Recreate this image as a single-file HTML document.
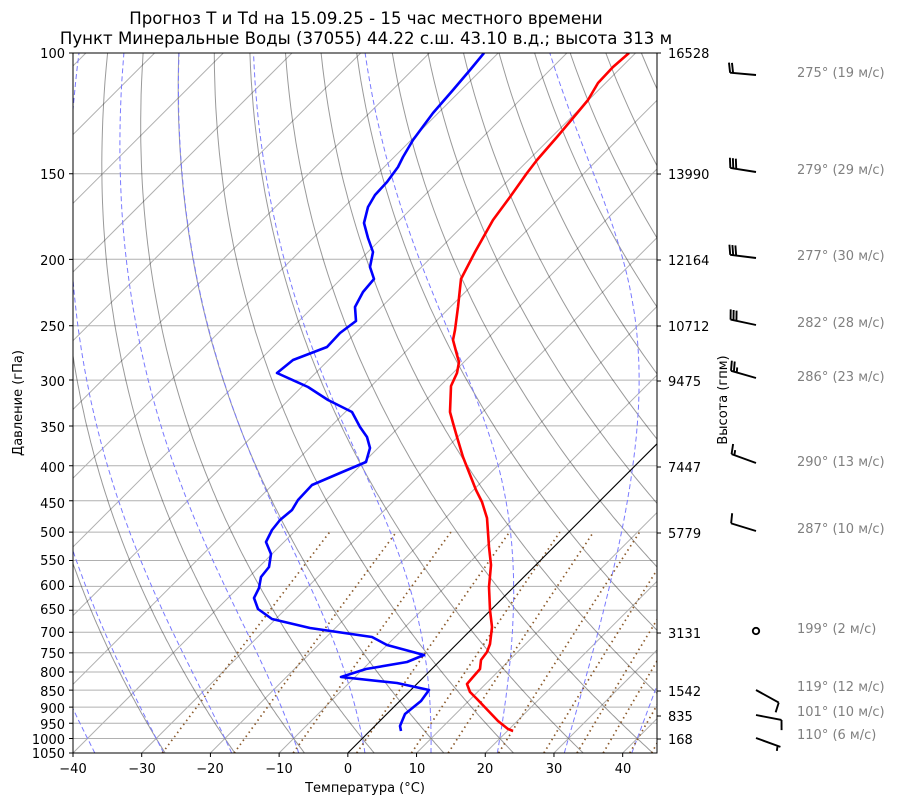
<!DOCTYPE html>
<html><head><meta charset="utf-8"><style>
html,body{margin:0;padding:0;background:#fff;}
svg{display:block;font-family:"DejaVu Sans","Liberation Sans",sans-serif;}
</style></head><body>
<svg id="s" width="900" height="806" viewBox="0 0 900 806" xmlns="http://www.w3.org/2000/svg">
<defs><clipPath id="c"><rect x="73" y="53" width="584" height="700"/></clipPath></defs>
<rect width="900" height="806" fill="#fff"/>
<g id="bg" clip-path="url(#c)"></g>
<g id="prof" clip-path="url(#c)" fill="none" stroke-width="2.6" stroke-linejoin="round">
<polyline stroke="#ff0000" points="629,53 613,67 598,83 588,100 573,118 557,137 537,160 527,173 510,197 493,220 475,252 461,279 458,307 455,330 453,340 457,355 459,362 457,373 451,386 450,412 453,423 457,437 463,457 476,490 482,502 487,518 489,547 491,565 489,587 490,610 492,627 490,644 487,652 481,660 480,669 473,677 467,684 470,692 477,699 498,721 508,729 513,731"/>
<polyline stroke="#0000ff" points="484,53 470,70 453,90 433,113 413,140 403,157 398,167 387,182 375,195 368,207 364,223 368,238 373,252 370,267 374,279 363,292 355,307 356,321 340,333 327,347 293,360 277,373 308,387 328,400 352,412 360,427 367,437 370,448 366,462 340,473 312,485 298,500 292,510 280,520 272,530 266,542 271,554 269,567 261,577 259,588 254,598 258,609 272,619 310,628 372,637 387,645 424,655 407,662 366,669 341,677 397,683 429,690 421,701 405,714 400,726 401,731"/>
</g>
<rect x="73" y="53" width="584" height="700" fill="none" stroke="#000" stroke-width="1"/>
<g id="ticks" stroke="#000" stroke-width="1"></g>
<g font-size="13" fill="#000">
<g text-anchor="end">
<text x="65" y="58">100</text><text x="65" y="179">150</text><text x="65" y="265">200</text><text x="65" y="331">250</text><text x="65" y="386">300</text><text x="65" y="432">350</text><text x="65" y="472">400</text><text x="65" y="508">450</text><text x="65" y="537">500</text><text x="65" y="565">550</text><text x="65" y="590">600</text><text x="65" y="614">650</text><text x="65" y="637">700</text><text x="65" y="658">750</text><text x="65" y="677">800</text><text x="65" y="696">850</text><text x="65" y="713">900</text><text x="65" y="729">950</text><text x="65" y="744">1000</text><text x="65" y="758">1050</text>
</g>
<g text-anchor="start">
<text x="668" y="58">16528</text><text x="668" y="179">13990</text><text x="668" y="265">12164</text><text x="668" y="331">10712</text><text x="668" y="386">9475</text><text x="668" y="472">7447</text><text x="668" y="538">5779</text><text x="668" y="638">3131</text><text x="668" y="696">1542</text><text x="668" y="721">835</text><text x="668" y="744">168</text>
</g>
<g text-anchor="middle">
<text x="73" y="773">−40</text><text x="142" y="773">−30</text><text x="210" y="773">−20</text><text x="279" y="773">−10</text><text x="348" y="773">0</text><text x="417" y="773">10</text><text x="485" y="773">20</text><text x="554" y="773">30</text><text x="623" y="773">40</text>
<text x="365" y="792">Температура (°C)</text>
<text x="366" y="24" font-size="16.6">Прогноз T и Td на 15.09.25 - 15 час местного времени</text>
<text x="366" y="44" font-size="16.6">Пункт Минеральные Воды (37055) 44.22 с.ш. 43.10 в.д.; высота 313 м</text>
<text transform="translate(22,403) rotate(-90)">Давление (гПа)</text>
<text transform="translate(727,400) rotate(-90)">Высота (гпм)</text>
</g>
<g fill="#808080" text-anchor="start">
<text x="797" y="77">275° (19 м/с)</text><text x="797" y="174">279° (29 м/с)</text><text x="797" y="260">277° (30 м/с)</text><text x="797" y="327">282° (28 м/с)</text><text x="797" y="381">286° (23 м/с)</text><text x="797" y="466">290° (13 м/с)</text><text x="797" y="533">287° (10 м/с)</text><text x="797" y="633">199° (2 м/с)</text><text x="797" y="691">119° (12 м/с)</text><text x="797" y="716">101° (10 м/с)</text><text x="797" y="739">110° (6 м/с)</text>
</g>
</g>
<g id="barbs" stroke="#000" stroke-width="1.9" fill="none" stroke-linecap="butt"></g>
</svg>
<script>
(function(){
var NS="http://www.w3.org/2000/svg";
function Y(p){return 53+700*Math.log(p/100)/Math.log(10.5);}
function X(T,p){return 73+6.871*(T+40)+(753-Y(p));}
var bg=document.getElementById('bg');
function pl(pts,st,w,dash,op){var e=document.createElementNS(NS,'polyline');e.setAttribute('points',pts.map(function(a){return a[0].toFixed(1)+','+a[1].toFixed(1)}).join(' '));e.setAttribute('fill','none');e.setAttribute('stroke',st);e.setAttribute('stroke-width',w);if(dash)e.setAttribute('stroke-dasharray',dash);if(op)e.setAttribute('stroke-opacity',op);bg.appendChild(e);}
var plist=[];for(var p=1050;p>=100;p-=5)plist.push(p);
var ps=[100,150,200,250,300,350,400,450,500,550,600,650,700,750,800,850,900,950,1000,1050];
ps.forEach(function(p){pl([[73,Y(p)],[657,Y(p)]],'#b0b0b0',1);});
for(var T=-160;T<=50;T+=10){ if(T===0)continue; pl([[X(T,1050),Y(1050)],[X(T,100),Y(100)]],'#b0b0b0',1);}
for(var t=-30;t<200;t+=10){var pts=plist.map(function(p){var TT=(t+273.15)*Math.pow(p/1000,0.2857)-273.15;return [X(TT,p),Y(p)];});pl(pts,'#000',1,null,0.4);}
function es(T){return 6.112*Math.exp(17.67*T/(T+243.5));}
function dTdp(p,Tk){var T=Tk-273.15;var e=es(T);var rs=0.622*e/(p-e);return (287.04*Tk+2.501e6*rs)/(1004.6+2.501e6*2.501e6*rs*0.622/(287.04*Tk*Tk))/p;}
for(var t0=-50;t0<=50;t0+=10){var res={};var Tk=t0+273.15,p=1000;res[1000]=Tk;
 var h=-1;for(p=1000;p>100;p+=h){var k1=dTdp(p,Tk),k2=dTdp(p+h/2,Tk+h/2*k1),k3=dTdp(p+h/2,Tk+h/2*k2),k4=dTdp(p+h,Tk+h*k3);Tk+=h/6*(k1+2*k2+2*k3+k4);res[Math.round(p+h)]=Tk;}
 Tk=t0+273.15;h=1;for(p=1000;p<1050;p+=h){var k1=dTdp(p,Tk),k2=dTdp(p+h/2,Tk+h/2*k1),k3=dTdp(p+h/2,Tk+h/2*k2),k4=dTdp(p+h,Tk+h*k3);Tk+=h/6*(k1+2*k2+2*k3+k4);res[Math.round(p+h)]=Tk;}
 var pts=plist.map(function(p){return [X(res[p]-273.15,p),Y(p)];});pl(pts,'#7a7aff',1,'5,3');}
[0.0004,0.001,0.002,0.004,0.007,0.01,0.016,0.024,0.032,0.04,0.05,0.06].forEach(function(w){var pts=[];for(var p=1050;p>=500;p-=10){var e=w*p/(0.622+w);var l=Math.log(e/6.112);var Td=243.5*l/(17.67-l);pts.push([X(Td,p),Y(p)]);}pl(pts,'#8b5a2b',1.7,'1.5,3.5');});
pl([[X(0,1050),Y(1050)],[X(0,100),Y(100)]],'#000',1.1);
var tk=document.getElementById('ticks'),d='';
ps.forEach(function(p){var y=Y(p);d+='M73,'+y+'h-4';});
[53,174,260,326,381,467,533,633,691,716,739].forEach(function(y){d+='M657,'+y+'h4';});
for(var T=-40;T<=40;T+=10){var x=73+6.871*(T+40);d+='M'+x+',753v4';}
var e=document.createElementNS(NS,'path');e.setAttribute('d',d);tk.appendChild(e);
var bb=document.getElementById('barbs');
function line(a,b,c,d2){var e=document.createElementNS(NS,'line');e.setAttribute('x1',a);e.setAttribute('y1',b);e.setAttribute('x2',c);e.setAttribute('y2',d2);bb.appendChild(e);}
function barb(y,dir,spd){var bx=756,by=y;var r=Math.round(spd/5)*5;
 if(r<5){var c=document.createElementNS(NS,'circle');c.setAttribute('cx',bx);c.setAttribute('cy',by);c.setAttribute('r',3.2);bb.appendChild(c);return;}
 var a=dir*Math.PI/180,L=26;var ux=Math.sin(a),uy=-Math.cos(a);var tx=bx+L*ux,ty=by+L*uy;line(bx,by,tx,ty);
 var px=-uy,py=ux;var full=Math.floor(r/10),half=(r%10)?1:0;var pos=0;
 if(full===0&&half)pos=3;
 for(var i=0;i<full;i++){var sx=tx-ux*pos,sy=ty-uy*pos;line(sx,sy,sx+px*10+ux*2,sy+py*10+uy*2);pos+=3;}
 if(half){var sx=tx-ux*pos,sy=ty-uy*pos;line(sx,sy,sx+px*5+ux*1,sy+py*5+uy*1);}
}
[[75,275,19],[172,279,29],[258,277,30],[325,282,28],[378,286,23],[463,290,13],[531,287,10],[631,199,2],[690,119,12],[715,101,10],[738,110,6]].forEach(function(b){barb(b[0],b[1],b[2]);});
})();
</script>
</body></html>
